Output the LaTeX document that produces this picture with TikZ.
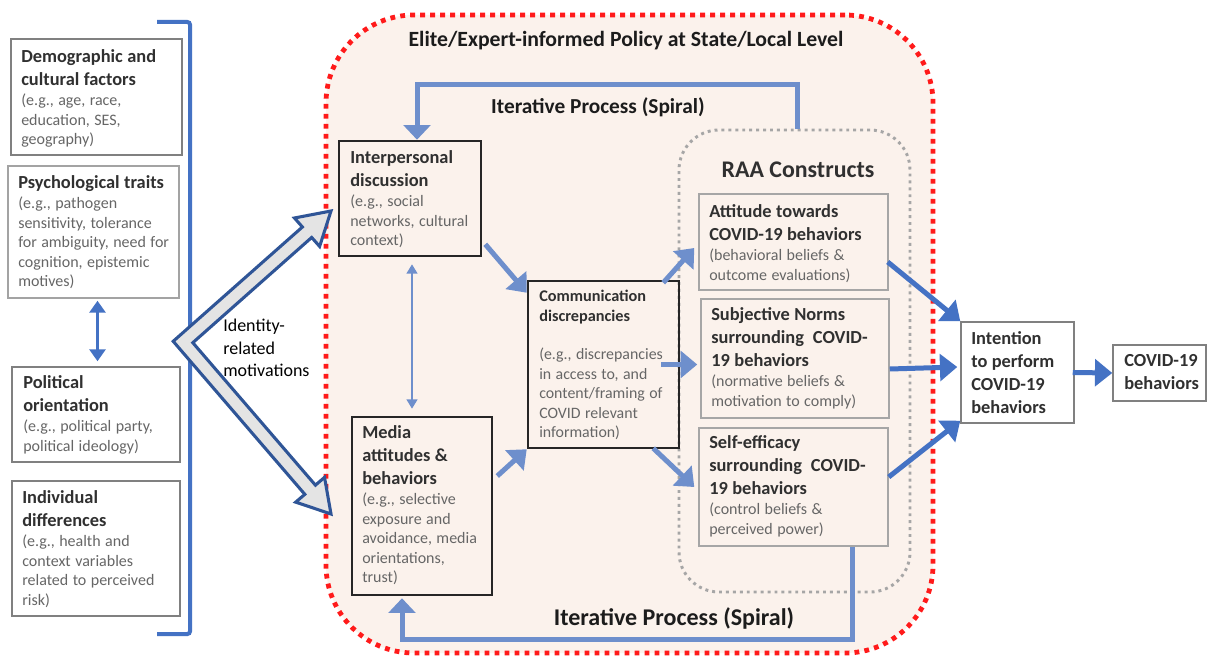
\documentclass[tikz,border=0pt]{standalone}
\usepackage{fontspec}
\setmainfont{Carlito}
\usetikzlibrary{arrows.meta,fit}

\definecolor{peach}{HTML}{FBF2EC}
\definecolor{policyred}{HTML}{FF1A1A}
\definecolor{raagray}{HTML}{A6A6A6}
\definecolor{boxgray}{HTML}{808080}
\definecolor{lightbox}{HTML}{A3A3A3}
\definecolor{darkline}{HTML}{262626}
\definecolor{blueA}{HTML}{4472C4}
\definecolor{blueB}{HTML}{6E8FCC}
\definecolor{hollowblue}{HTML}{2F5597}
\definecolor{hollowfill}{HTML}{E4E4E4}
\definecolor{headtext}{HTML}{303030}
\definecolor{egtext}{HTML}{666666}
\definecolor{titletext}{HTML}{1C1C1C}

% bold heading lines and grey example lines inside the boxes
\newcommand\hd[1]{{\fontsize{13.8pt}{17.2pt}\selectfont\bfseries\leavevmode\color{headtext}#1\par}}
\newcommand\eg[1]{{\fontsize{12pt}{14.6pt}\selectfont\vskip1pt\leavevmode\color{egtext}#1\par}}

\tikzset{
  lbox/.style={draw=boxgray, line width=1.1pt, fill=white, inner sep=0pt},
  kbox/.style={draw=darkline, line width=1.9pt, inner sep=0pt},
  rbox/.style={draw=raagray, line width=1.1pt, inner sep=0pt},
  obox/.style={draw=boxgray, line width=1.1pt, fill=white, inner sep=0pt},
  txt/.style={inner sep=0pt, anchor=north west, text width=190pt, align=left},
  flow/.style={draw=blueB, line width=3.75pt, -{Triangle[width=20pt,length=12.5pt]}},
  outflow/.style={draw=blueA, line width=3.75pt, -{Triangle[width=20pt,length=13pt]}},
  spiral/.style={draw=blueB, line width=3.75pt, -{Triangle[width=20pt,length=11pt]}},
  thinlink/.style={draw=blueB, line width=1.6pt, {Triangle[width=8pt,length=7pt]}-{Triangle[width=8pt,length=7pt]}},
  sidelink/.style={draw=blueA, line width=2.2pt, {Triangle[width=12pt,length=9pt]}-{Triangle[width=12pt,length=9pt]}},
  boldlabel/.style={inner sep=0pt, text=titletext, font=\bfseries},
}

\begin{document}
\begin{tikzpicture}[x=0.75pt,y=-0.75pt]
\useasboundingbox (0,0) rectangle (1209,656);
\fill[white] (0,0) rectangle (1209,656);

% bracket gathering the individual-level factors
\draw[blueA, line width=3pt, rounded corners=2pt] (157,22) -- (190,22) -- (190,634) -- (157,634);

% policy context and RAA container
\node[fit={(326,15)(933,653)}, inner sep=0pt, fill=peach, draw=policyred, line width=3.6pt,
      dash pattern=on 3.6pt off 3.9pt, rounded corners=66pt] (policy) {};
\node[fit={(679,130)(910,592)}, inner sep=0pt, draw=raagray, line width=2.2pt,
      dash pattern=on 2.2pt off 3pt, rounded corners=30pt] (raa) {};

\node[boldlabel, font=\fontsize{16.3pt}{18pt}\selectfont\bfseries] (policyT) at (626,41) {Elite/Expert-informed Policy at State/Local Level};
\node[boldlabel, font=\fontsize{16pt}{18pt}\selectfont\bfseries] (spiralTopT) at (598,107) {Iterative Process (Spiral)};
\node[boldlabel, font=\fontsize{18pt}{20pt}\selectfont\bfseries] (spiralBotT) at (674,618) {Iterative Process (Spiral)};
\node[boldlabel, text=headtext, font=\fontsize{17.9pt}{20pt}\selectfont\bfseries] (raaT) at (798,170) {RAA Constructs};

% individual-level factors
\node[lbox, fit={(11,39)(182,155)}] (demo) {};
\node[txt] (demoT) at (21,49) {\hd{Demographic and\\cultural factors}\eg{(e.g., age, race,\\education, SES,\\geography)}};
\node[lbox, draw=lightbox, fit={(8,166)(179,298)}] (psych) {};
\node[txt] (psychT) at (18,175) {\hd{Psychological traits}\eg{(e.g., pathogen\\sensitivity, tolerance\\for ambiguity, need for\\cognition, epistemic\\motives)}};
\node[lbox, fit={(12,367)(180,462)}] (pol) {};
\node[txt] (polT) at (23,375) {\hd{Political\\orientation}\eg{(e.g., political party,\\political ideology)}};
\node[lbox, fit={(12,481)(180,616)}] (ind) {};
\node[txt] (indT) at (22,490) {\hd{Individual\\differences}\eg{(e.g., health and\\context variables\\related to perceived\\risk)}};

\node[txt, text=black, font=\fontsize{13.5pt}{16.9pt}\selectfont] (identT) at (223,319) {Identity-\\related\\motivations};

% communication stage
\node[kbox, fit={(339,141)(481,256)}] (inter) {};
\node[txt] (interT) at (350,150) {\hd{Interpersonal\\discussion}\eg{(e.g., social\\networks, cultural\\context)}};
\node[kbox, fit={(352,417)(492,595)}] (media) {};
\node[txt] (mediaT) at (362,425) {\hd{Media\\attitudes \&\\behaviors}\eg{(e.g., selective\\exposure and\\avoidance, media\\orientations,\\trust)}};
\node[kbox, fit={(528,281)(679,448)}] (comm) {};
\node[txt] (commT) at (539,290) {{\fontsize{12.2pt}{15pt}\selectfont\bfseries\leavevmode\color{headtext}Communication\\discrepancies\par}{\fontsize{11.9pt}{14.6pt}\selectfont\vskip13.9pt\leavevmode\color{egtext}(e.g., discrepancies\\in access to, and\\content/framing of\\COVID relevant\\information)\par}};

% RAA constructs
\node[rbox, fit={(699,194)(888,290)}] (att) {};
\node[txt] (attT) at (709,204) {\hd{Attitude towards\\COVID-19 behaviors}\eg{(behavioral beliefs \&\\outcome evaluations)}};
\node[rbox, fit={(701,299)(889,418)}] (subj) {};
\node[txt] (subjT) at (711,307) {\hd{Subjective Norms\\surrounding\ \ COVID-\\19 behaviors}\eg{(normative beliefs \&\\motivation to comply)}};
\node[rbox, fit={(699,428)(888,546)}] (self) {};
\node[txt] (selfT) at (709,435) {\hd{Self-efficacy\\surrounding\ \ COVID-\\19 behaviors}\eg{(control beliefs \&\\perceived power)}};

% outcome boxes
\node[obox, fit={(961,322)(1074,423)}] (intent) {};
\node[txt] (intentT) at (971,331) {\hd{Intention\\to perform\\COVID-19\\behaviors}};
\node[obox, fit={(1113,345)(1206,401)}] (beh) {};
\node[txt] (behT) at (1124,354) {\hd{COVID-19\\behaviors}};

% links between boxes
\draw[sidelink] ([shift={(4,2)}]psych.south) -- ([shift={(1.5,-5)}]pol.north);
\draw[thinlink] ([shift={(2,7)}]inter.south) -- ([shift={(-10,-7)}]media.north);
\draw[flow] ([shift={(3,-13)}]inter.south east) -- ([shift={(0,13)}]comm.north west);
\draw[flow] ([shift={(4,-30)}]media.east) -- (comm.south west);
\draw[flow] ([shift={(-17,3)}]comm.north east) -- ([shift={(-4,6)}]att.west);
\draw[flow] ([shift={(-19,0)}]comm.east) -- ([shift={(-3,6)}]subj.west);
\draw[flow] ([shift={(-27,-1)}]comm.south east) -- ([shift={(-4,0)}]self.west);
\draw[outflow] ([shift={(-1,20)}]att.east) -- (intent.north west);
\draw[outflow] ([shift={(0,10.5)}]subj.east) -- ([shift={(-3,-5.5)}]intent.west);
\draw[outflow] ([shift={(0,-10)}]self.east) -- ([shift={(0,-3)}]intent.south west);
\draw[outflow] ([shift={(-2,0)}]intent.east) -- (beh.west);

% iterative feedback loops
\draw[spiral] ([shift={(2.5,0)}]raa.north) -- ++(0,-44) -| ([shift={(7,0)}]inter.north);
\draw[spiral] ([shift={(58.5,0)}]self.south) -- ++(0,93) -| ([shift={(-20,2)}]media.south);

% identity-related motivations: hollow double-headed chevron
\draw[fill=hollowfill, draw=hollowblue, line width=2.3pt, line join=miter]
  (173.2,341.3) -- (302.4,227.0) -- (294.45,217.98) -- (331,211) -- (319.63,246.44)
  -- (311.68,237.45) -- (192.8,342.7) -- (315.44,485.17) -- (324.53,477.35)
  -- (331,514) -- (295.73,502.13) -- (304.82,494.31) -- cycle;
\end{tikzpicture}
\end{document}
